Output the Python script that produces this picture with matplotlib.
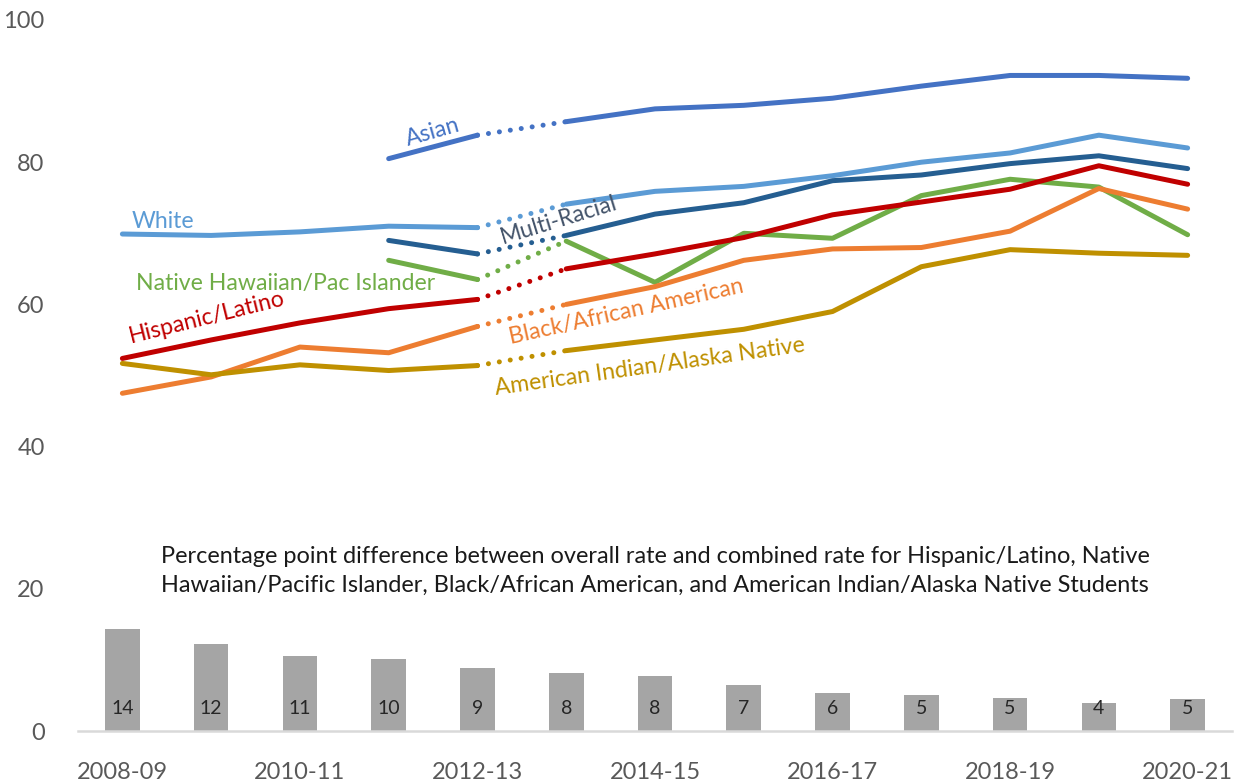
import numpy as np
import matplotlib
matplotlib.use("Agg")
import matplotlib.pyplot as plt

nan = np.nan

# school years on the x axis
years = ["2008-09", "2009-10", "2010-11", "2011-12", "2012-13", "2013-14", "2014-15",
         "2015-16", "2016-17", "2017-18", "2018-19", "2019-20", "2020-21"]

# rates by group
asian = [nan, nan, nan, 80.5, 83.8, 85.7, 87.5, 88.0, 89.0, 90.7, 92.2, 92.2, 91.8]
white = [69.9, 69.7, 70.2, 71.0, 70.8, 74.1, 75.9, 76.6, 78.1, 80.0, 81.3, 83.8, 82.0]
multi = [nan, nan, nan, 69.0, 67.1, 69.7, 72.7, 74.3, 77.4, 78.2, 79.8, 80.9, 79.1]
nhpi = [nan, nan, nan, 66.2, 63.5, 68.9, 63.1, 70.0, 69.3, 75.3, 77.6, 76.5, 69.8]
hispanic = [52.4, 55.0, 57.4, 59.4, 60.7, 65.0, 67.1, 69.4, 72.6, 74.4, 76.2, 79.5, 76.9]
black = [47.5, 49.8, 54.0, 53.2, 56.9, 60.0, 62.5, 66.2, 67.8, 68.0, 70.3, 76.3, 73.4]
aian = [51.7, 50.1, 51.5, 50.7, 51.4, 53.5, 55.0, 56.5, 59.0, 65.3, 67.7, 67.2, 66.9]

# percentage point gap bars
gap = [14.3, 12.3, 10.5, 10.1, 8.8, 8.2, 7.7, 6.5, 5.4, 5.0, 4.6, 4.0, 4.5]
gap_labels = ["14", "12", "11", "10", "9", "8", "8", "7", "6", "5", "5", "4", "5"]

# series: (values, color, label, label x, label y, rotation, label color)
series = [
    (asian, "#4472C4", "Asian", 3.5, 84.3, 16, "#4472C4"),
    (white, "#5B9BD5", "White", 0.46, 71.7, 0, "#5B9BD5"),
    (multi, "#255E91", "Multi-Racial", 4.92, 71.8, 17, "#44546A"),
    (nhpi, "#70AD47", "Native Hawaiian/Pac Islander", 1.84, 63.0, 0, "#70AD47"),
    (hispanic, "#C00000", "Hispanic/Latino", 0.95, 58.1, 14, "#C00000"),
    (black, "#ED7D31", "Black/African American", 5.68, 59.0, 12.5, "#ED7D31"),
    (aian, "#BF9000", "American Indian/Alaska Native", 5.94, 51.2, 8, "#BF9000"),
]

break_idx = 4  # data definition changes between 2012-13 and 2013-14

plt.rcParams["font.family"] = ["Lato", "DejaVu Sans"]

fig = plt.figure(figsize=(12.43, 7.81), dpi=100)
ax = fig.add_axes([78 / 1243, 50 / 781, 1154 / 1243, 711 / 781])

x = np.arange(len(years))

# bars for the gap
bars = ax.bar(x, gap, width=0.39, color="#A5A5A5", zorder=1)
for xi, lab in zip(x, gap_labels):
    ax.text(xi, 3.1, lab, ha="center", va="center", fontsize=14, color="#262626")

# lines, solid before and after the break, dotted across it
for vals, color, label, lx, ly, rot, lcolor in series:
    v = np.array(vals, dtype=float)
    ax.plot(x[:break_idx + 1], v[:break_idx + 1], color=color, lw=3.6,
            solid_capstyle="round", zorder=3)
    ax.plot(x[break_idx + 1:], v[break_idx + 1:], color=color, lw=3.6,
            solid_capstyle="round", zorder=3)
    ax.plot(x[break_idx:break_idx + 2], v[break_idx:break_idx + 2], color=color, lw=3.6,
            linestyle=(2.2, (0.01, 2.2)), dash_capstyle="round", zorder=3)
    ax.text(lx, ly, label, color=lcolor, fontsize=16.6, rotation=rot,
            rotation_mode="anchor", ha="center", va="center", zorder=4)

ax.text(6.0, 22.5,
        "Percentage point difference between overall rate and combined rate for Hispanic/Latino, Native\n"
        "Hawaiian/Pacific Islander, Black/African American, and American Indian/Alaska Native Students",
        ha="center", va="center", fontsize=16.9, color="#1a1a1a", linespacing=1.5)

ax.set_xlim(-0.5, len(years) - 0.5)
ax.set_ylim(0, 100)
ax.set_yticks([0, 20, 40, 60, 80, 100])
ax.set_xticks(x[::2])
ax.set_xticklabels(years[::2])
ax.tick_params(axis="both", length=0, labelsize=17, labelcolor="#595959")
ax.tick_params(axis="y", pad=24)
ax.tick_params(axis="x", pad=22)

for side in ["top", "right", "left"]:
    ax.spines[side].set_visible(False)
ax.spines["bottom"].set_color("#D9D9D9")
ax.spines["bottom"].set_linewidth(1.8)

fig.savefig("out.png", dpi=100)
